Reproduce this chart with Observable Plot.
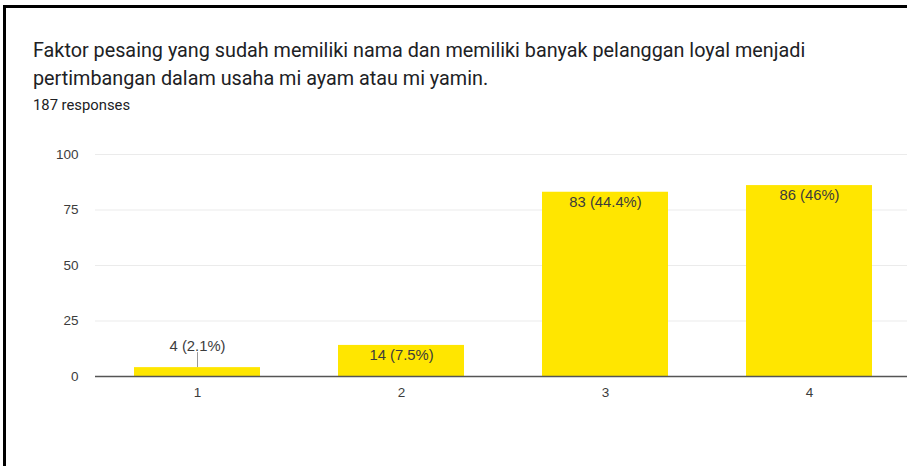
<!DOCTYPE html>
<html>
<head>
<meta charset="utf-8">
<script src="https://cdn.jsdelivr.net/npm/d3@7"></script>
<script src="https://cdn.jsdelivr.net/npm/@observablehq/plot@0.6"></script>
<style>
  html, body { margin: 0; padding: 0; background: #fff; }
  body { width: 907px; height: 466px; position: relative; overflow: hidden; font-family: Roboto, "Noto Sans", sans-serif; }
  #frame { position: absolute; left: 3px; top: 5px; right: -10px; bottom: -10px; border-left: 3px solid #000; border-top: 3px solid #000; }
  #title { position: absolute; left: 33px; top: 37px; font-size: 19.8px; line-height: 28px; color: #202124; white-space: nowrap; }
  #sub { position: absolute; left: 33px; top: 96px; font-size: 14.8px; color: #202124; }
  #chart { position: absolute; left: 0; top: 140px; }
</style>
</head>
<body>
<div id="frame"></div>
<div id="title">Faktor pesaing yang sudah memiliki nama dan memiliki banyak pelanggan loyal menjadi<br>pertimbangan dalam usaha mi ayam atau mi yamin.</div>
<div id="sub">187 responses</div>
<div id="chart"></div>
<script>
const categories = ["1", "2", "3", "4"];
const counts = [4, 14, 83, 86];
const labels = ["4 (2.1%)", "14 (7.5%)", "83 (44.4%)", "86 (46%)"];
const yTicks = [0, 25, 50, 75, 100];

const data = categories.map((c, i) => ({cat: c, value: counts[i], label: labels[i]}));
const inside = data.filter(d => d.value >= 10);
const outside = data.filter(d => d.value < 10);

const chart = Plot.plot({
  width: 907,
  height: 326,
  marginTop: 14,
  marginBottom: 90,
  marginLeft: 95,
  marginRight: 0,
  style: {fontFamily: "'Liberation Sans', Arial, sans-serif", fontSize: "13px", color: "#444", background: "transparent"},
  x: {domain: categories, range: [95, 911], paddingInner: 0.38, paddingOuter: 0.19, label: null},
  y: {domain: [0, 100], ticks: yTicks, label: null},
  marks: [
    Plot.ruleY(yTicks.filter(t => t > 0), {stroke: "#ebebeb", strokeWidth: 1}),
    Plot.barY(data, {x: "cat", y: "value", fill: "#ffe600"}),
    Plot.ruleY([0], {stroke: "#555", strokeWidth: 1.5}),
    Plot.ruleX(outside, {x: "cat", y1: "value", y2: "value", insetTop: -15, stroke: "#999", strokeWidth: 1}),
    Plot.text(outside, {x: "cat", y: "value", text: "label", dy: -21, fill: "#3c3c3c", fontSize: 14.8}),
    Plot.text(inside, {x: "cat", y: "value", text: "label", dy: 10, fill: "#3c3c3c", fontSize: 14.8}),
    Plot.axisX({tickSize: 0, tickPadding: 11, fontSize: 13.5, fill: "#3c3c3c"}),
    Plot.axisY({ticks: yTicks, tickSize: 0, tickPadding: 17, fontSize: 13.5, fill: "#3c3c3c"})
  ]
});
document.getElementById("chart").appendChild(chart);
</script>
</body>
</html>
